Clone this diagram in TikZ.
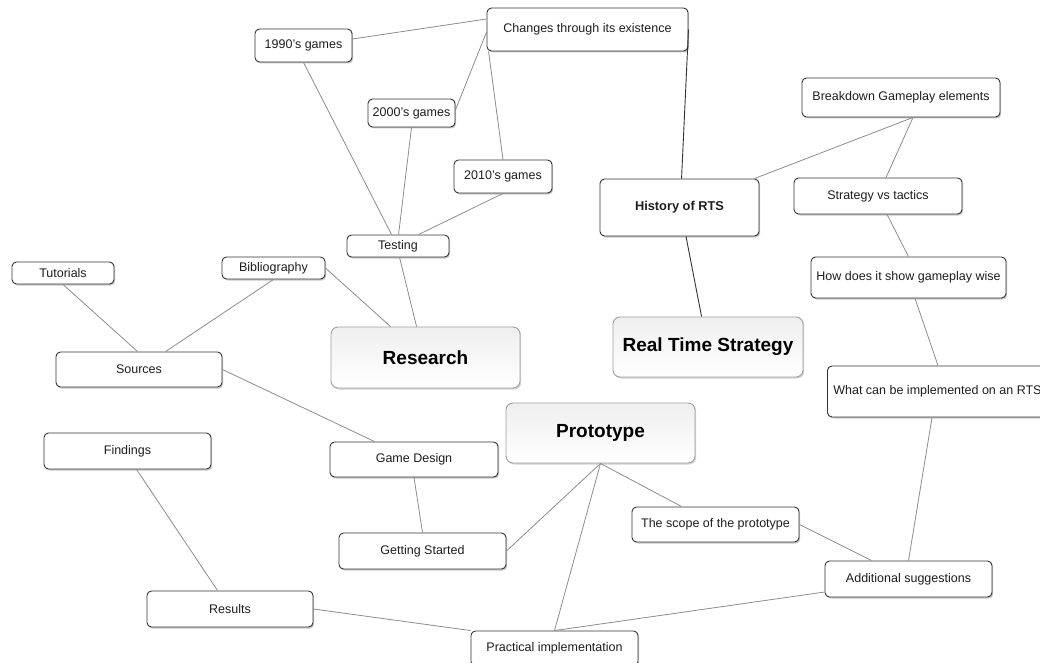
\documentclass[tikz,border=0pt]{standalone}
\usepackage{fontspec}
\setmainfont{Liberation Sans}
\usetikzlibrary{shadows,calc}
\definecolor{boxline}{HTML}{333333}
\definecolor{mainline}{HTML}{A0A0A0}
\definecolor{linkgrey}{HTML}{8C8C8C}
\definecolor{textcol}{HTML}{1E1E1E}
\definecolor{topgrey}{HTML}{EFEFEF}
\begin{document}
\begin{tikzpicture}[x=1pt,y=-1pt,
  box/.style={draw=boxline, line width=0.9pt, rounded corners=4.5pt, fill=white,
    inner sep=0pt, text=textcol, font=\fontsize{12.5}{15}\selectfont,
    drop shadow={shadow xshift=1.2pt, shadow yshift=-1.5pt, fill=black, opacity=0.22}},
  mainbox/.style={draw=mainline, line width=0.9pt, rounded corners=7pt,
    top color=topgrey, bottom color=white, inner sep=0pt, text=black,
    font=\bfseries\fontsize{19}{22}\selectfont,
    drop shadow={shadow xshift=1.2pt, shadow yshift=-1.5pt, fill=black, opacity=0.18}},
  link/.style={draw=linkgrey, line width=0.8pt},
  darklink/.style={draw=boxline, line width=0.9pt}]
\useasboundingbox (0,0) rectangle (1040,663);
\clip (0,0) rectangle (1040,663);

% ---- nodes ----
\node[box, minimum width=201pt, minimum height=43pt] (changes) at (587.5,29.5) {Changes through its existence};
\node[box, minimum width=97pt, minimum height=33pt] (n1990) at (303.5,45.5) {1990's games};
\node[box, minimum width=87pt, minimum height=28pt] (n2000) at (411.5,113) {2000's games};
\node[box, minimum width=98pt, minimum height=33pt] (n2010) at (503,176.5) {2010's games};
\node[box, minimum width=102pt, minimum height=22pt] (testing) at (398,246) {Testing};
\node[box, minimum width=159pt, minimum height=57pt, font=\bfseries\fontsize{12.8}{15}\selectfont] (history) at (679.5,207.5) {History of RTS};
\node[box, minimum width=198pt, minimum height=39pt] (breakdown) at (901,97.5) {Breakdown Gameplay elements};
\node[box, minimum width=168pt, minimum height=36pt] (strategy) at (878,196) {Strategy vs tactics};
\node[box, minimum width=195pt, minimum height=41pt] (howdoes) at (908.5,277.5) {How does it show gameplay wise};
\node[box, anchor=west, minimum width=228pt, minimum height=51pt, inner xsep=3pt, align=left] (whatcan) at (827,391.5) {What can be implemented on an RTS\hspace{8pt}};
\node[mainbox, minimum width=190pt, minimum height=60pt] (rts) at (708,347) {Real Time Strategy};
\node[box, minimum width=102pt, minimum height=22pt] (tutorials) at (63,273) {Tutorials};
\node[box, minimum width=103pt, minimum height=22pt] (biblio) at (273.5,268) {Bibliography};
\node[box, minimum width=166pt, minimum height=35pt] (sources) at (139,369.5) {Sources};
\node[mainbox, minimum width=189pt, minimum height=61pt] (research) at (425.5,357.5) {Research};
\node[box, minimum width=167pt, minimum height=36pt] (findings) at (127.5,451) {Findings};
\node[box, minimum width=168pt, minimum height=35pt] (gamedesign) at (414,459.5) {Game Design};
\node[box, minimum width=167pt, minimum height=36pt] (getting) at (422.5,551) {Getting Started};
\node[mainbox, minimum width=189pt, minimum height=60pt] (prototype) at (600.5,433) {Prototype};
\node[box, minimum width=167pt, minimum height=35pt] (scope) at (715.5,524.5) {The scope of the prototype};
\node[box, minimum width=167pt, minimum height=36pt] (additional) at (908.5,579) {Additional suggestions};
\node[box, minimum width=166pt, minimum height=36pt] (results) at (230,609) {Results};
\node[box, minimum width=167pt, minimum height=35pt] (practical) at (554.5,648.5) {Practical implementation};

% ---- connectors ----
\path[link] ([yshift=6.5pt]n1990.east) -- ([yshift=10.5pt]changes.west);
\path[link] ([yshift=3pt]n2000.east) -- ([yshift=-2.5pt]changes.west);
\path[link] (n2010.north) -- ([xshift=2pt]changes.south west);
\path[link] (n1990.south) -- ([xshift=45pt]testing.north west);
\path[link] (n2000.south) -- ([xshift=52pt]testing.north west);
\path[link] (n2010.south) -- ([xshift=72pt]testing.north west);
\path[darklink] (changes.east) -- ([xshift=82pt]history.north west);
\path[link] ([xshift=53pt]testing.south west) -- ([xshift=86pt]research.north west);
\path[link] (biblio.east) -- ([xshift=60pt]research.north west);
\path[link] (biblio.south) -- ([xshift=110pt]sources.north west);
\path[link] (tutorials.south) -- ([xshift=82pt]sources.north west);
\path[link] (sources.east) -- ([xshift=45pt]gamedesign.north west);
\path[link] (gamedesign.south) -- (getting.north);
\path[link] (prototype.south) -- (getting.east);
\path[link] (prototype.south) -- ([xshift=50pt]scope.north west);
\path[link] (prototype.south) -- (practical.north);
\path[link] (scope.east) -- ([xshift=47pt]additional.north west);
\path[link] ([yshift=-13pt]additional.west) -- (practical.north);
\path[link] (results.east) -- (practical.north west);
\path[link] ([xshift=93pt]findings.south west) -- ([xshift=71pt]results.north west);
\path[link] ([xshift=105pt]whatcan.south west) -- (additional.north);
\path[link] ([xshift=6.5pt]howdoes.south) -- ([xshift=111pt]whatcan.north west);
\path[link] ([xshift=9pt]strategy.south) -- (howdoes.north);
\path[link] ([xshift=12pt]breakdown.south) -- ([xshift=8pt]strategy.north);
\path[link] ([xshift=12pt]breakdown.south) -- ([xshift=-5pt]history.north east);
\path[darklink] ([xshift=6.5pt]history.south) -- ([xshift=89pt]rts.north west);
\end{tikzpicture}
\end{document}
